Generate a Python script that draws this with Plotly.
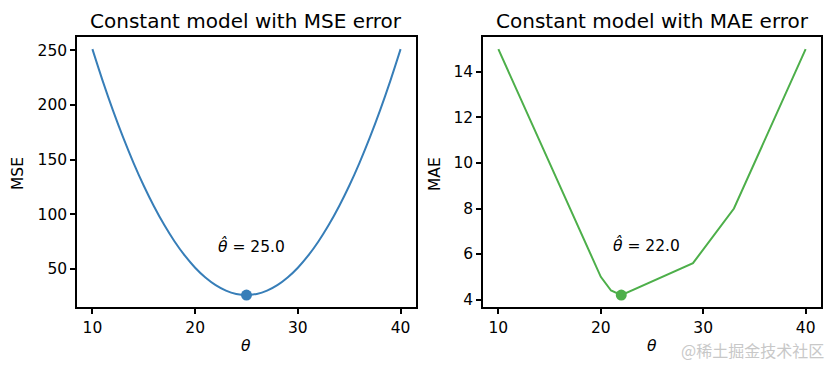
import plotly.graph_objects as go

# --- data ---
theta_mse = [10, 11, 12, 13, 14, 15, 16, 17, 18, 19, 20, 21, 22, 23, 24, 25,
             26, 27, 28, 29, 30, 31, 32, 33, 34, 35, 36, 37, 38, 39, 40]
mse_vals = [251, 222, 195, 170, 147, 126, 107, 90, 75, 62, 51, 42, 35, 30, 27, 26,
            27, 30, 35, 42, 51, 62, 75, 90, 107, 126, 147, 170, 195, 222, 251]
theta_mae = [10, 20, 21, 22, 29, 33, 40]
mae_vals = [15, 5.0, 4.4, 4.2, 5.6, 8.0, 15]
mse_best = [25.0, 26]
mae_best = [22.0, 4.2]
mse_label_pos = [22.0, 71]
mae_label_pos = [21.0, 6.4]
x_ticks = [10, 20, 30, 40]
mse_ticks = [50, 100, 150, 200, 250]
mae_ticks = [4, 6, 8, 10, 12, 14]

BLUE = "#377eb8"
GREEN = "#4daf4a"
FONT = "DejaVu Sans"

# page is offset by the browser's 8px body margin
OFF = 8
W = 833 - OFF
H = 370 - OFF


def px(x):
    return (x - OFF) / W


def py(y):
    return 1 - (y - OFF) / H


fig = go.Figure()
fig.add_trace(go.Scatter(x=theta_mse, y=mse_vals, mode="lines",
                         line=dict(color=BLUE, width=2, shape="spline"),
                         xaxis="x", yaxis="y", showlegend=False))
fig.add_trace(go.Scatter(x=[mse_best[0]], y=[mse_best[1]], mode="markers",
                         marker=dict(color=BLUE, size=11),
                         xaxis="x", yaxis="y", showlegend=False))
fig.add_trace(go.Scatter(x=theta_mae, y=mae_vals, mode="lines",
                         line=dict(color=GREEN, width=2),
                         xaxis="x2", yaxis="y2", showlegend=False))
fig.add_trace(go.Scatter(x=[mae_best[0]], y=[mae_best[1]], mode="markers",
                         marker=dict(color=GREEN, size=11),
                         xaxis="x2", yaxis="y2", showlegend=False))

yd = [py(309), py(37)]

axis_common = dict(showline=True, linecolor="black", linewidth=1.5, mirror=True,
                   ticks="outside", ticklen=5, tickwidth=1.5, tickcolor="black",
                   showgrid=False, zeroline=False,
                   tickfont=dict(family=FONT, size=15.5, color="black"))

fig.update_layout(
    width=W, height=H,
    margin=dict(l=0, r=0, t=0, b=0),
    plot_bgcolor="white", paper_bgcolor="white",
    font=dict(family=FONT, color="black"),
    xaxis=dict(domain=[px(77), px(416)], range=[8.5, 41.5], tickvals=x_ticks,
               anchor="y", **axis_common),
    yaxis=dict(domain=yd, range=[14.75, 262.25], tickvals=mse_ticks,
               anchor="x", **axis_common),
    xaxis2=dict(domain=[px(483), px(821)], range=[8.5, 41.5], tickvals=x_ticks,
                anchor="y2", **axis_common),
    yaxis2=dict(domain=yd, range=[3.66, 15.54], tickvals=mae_ticks,
                anchor="x2", **axis_common),
)

annos = [
    dict(text="Constant model with MSE error", x=px((77 + 416) / 2), y=py(21),
         font=dict(size=20)),
    dict(text="Constant model with MAE error", x=px((483 + 821) / 2), y=py(21),
         font=dict(size=20)),
    dict(text="MSE", x=px(18), y=py(175), textangle=-90, font=dict(size=15.5)),
    dict(text="MAE", x=px(435), y=py(175), textangle=-90, font=dict(size=15.5)),
    dict(text="<i>θ</i>", x=px(246), y=py(348), font=dict(size=15.5)),
    dict(text="<i>θ</i>", x=px(652), y=py(348), font=dict(size=15.5)),
    dict(text="@稀土掘金技术社区", x=px(826), y=py(352), xanchor="right",
         font=dict(size=16, color="#c8c8c8", family="Noto Sans CJK SC")),
]
for a in annos:
    a.setdefault("xanchor", "center")
    fig.add_annotation(xref="paper", yref="paper", yanchor="middle", showarrow=False, **a)

fig.add_annotation(x=mse_label_pos[0], y=mse_label_pos[1], xref="x", yref="y",
                   text="<i>θ̂</i> = 25.0", showarrow=False, xanchor="left", yanchor="middle",
                   font=dict(size=15.5, family=FONT))
fig.add_annotation(x=mae_label_pos[0], y=mae_label_pos[1], xref="x2", yref="y2",
                   text="<i>θ̂</i> = 22.0", showarrow=False, xanchor="left", yanchor="middle",
                   font=dict(size=15.5, family=FONT))

fig.write_html("out.html")
